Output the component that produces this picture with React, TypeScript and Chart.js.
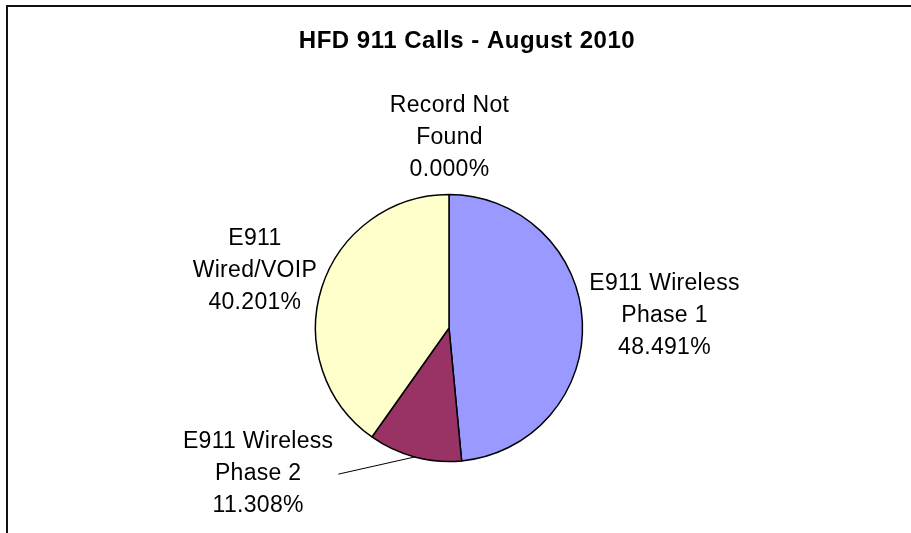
import React, { useEffect, useRef } from 'react';
import { Chart, ArcElement, PieController } from 'chart.js';

Chart.register(ArcElement, PieController);

const chartTitle = 'HFD 911 Calls - August 2010';
const categories: string[][] = [
  ['E911 Wireless', 'Phase 1'],
  ['E911 Wireless', 'Phase 2'],
  ['E911', 'Wired/VOIP'],
  ['Record Not', 'Found'],
];
const values: number[] = [48.491, 11.308, 40.201, 0.0];
const sliceColors: string[] = ['#9999FF', '#993366', '#FFFFCC', '#FFFFFF'];
// label fine-tuning (dx, dy) relative to automatic outside placement
const labelNudges: number[][] = [[-1, -5], [-135, -39.5], [0, -2], [0.5, -2.5]];
const leaderLines: boolean[] = [false, true, false, false];

const W = 911;
const H = 533;

export default function App() {
  const ref = useRef<HTMLCanvasElement | null>(null);

  useEffect(() => {
    if (!ref.current) return;
    const total = values.reduce((a, b) => a + b, 0);

    const decor = {
      id: 'decor',
      beforeDraw(chart: any) {
        const ctx = chart.ctx;
        ctx.save();
        ctx.fillStyle = '#ffffff';
        ctx.fillRect(0, 0, W, H);
        ctx.strokeStyle = '#111111';
        ctx.lineWidth = 2;
        ctx.beginPath();
        ctx.moveTo(W + 2, 6);
        ctx.lineTo(7, 6);
        ctx.lineTo(7, H + 2);
        ctx.stroke();
        // title
        ctx.fillStyle = '#000000';
        ctx.font = 'bold 24px "Liberation Sans", Arial, sans-serif';
        (ctx as any).letterSpacing = '0.5px';
        ctx.textAlign = 'center';
        ctx.textBaseline = 'alphabetic';
        ctx.fillText(chartTitle, 467, 47.5);
        ctx.restore();
      },
      afterDraw(chart: any) {
        const ctx = chart.ctx;
        const meta = chart.getDatasetMeta(0);
        const gap = 8;
        const lh = 32;
        ctx.save();
        ctx.font = '23px "Liberation Sans", Arial, sans-serif';
        (ctx as any).letterSpacing = '0.3px';
        ctx.fillStyle = '#000000';
        ctx.textAlign = 'center';
        ctx.textBaseline = 'alphabetic';
        meta.data.forEach((arc: any, i: number) => {
          const p = arc.getProps(['x', 'y', 'startAngle', 'endAngle', 'outerRadius'], true);
          const mid = (p.startAngle + p.endAngle) / 2;
          const c = Math.cos(mid);
          const s = Math.sin(mid);
          const ax = p.x + c * (p.outerRadius + gap);
          const ay = p.y + s * (p.outerRadius + gap);
          const pct = ((values[i] / total) * 100).toFixed(3) + '%';
          const lines = [...categories[i], pct];
          const hw = Math.max(...lines.map((l) => ctx.measureText(l).width)) / 2;
          const hh = (lines.length * lh) / 2;
          const cx = ax + c * hw + labelNudges[i][0];
          const cy = ay + s * hh + labelNudges[i][1];
          lines.forEach((l, k) => {
            ctx.fillText(l, cx, cy + (k - (lines.length - 1) / 2) * lh + 8);
          });
          if (leaderLines[i]) {
            ctx.save();
            ctx.strokeStyle = '#000000';
            ctx.lineWidth = 1;
            ctx.beginPath();
            ctx.moveTo(cx + hw + 5, cy + 2.5);
            ctx.lineTo(p.x + c * p.outerRadius, p.y + s * p.outerRadius);
            ctx.stroke();
            ctx.restore();
          }
        });
        ctx.restore();
      },
    };

    const chart = new Chart(ref.current, {
      type: 'pie',
      data: {
        labels: categories.map((c) => c.join(' ')),
        datasets: [
          {
            data: values,
            backgroundColor: sliceColors,
            borderColor: '#000000',
            borderWidth: 1.5,
          },
        ],
      },
      options: {
        responsive: false,
        animation: false,
        radius: 133.5,
        layout: { padding: { left: 315.5, right: 328.5, top: 194.5, bottom: 71.5 } },
        plugins: {
          legend: { display: false },
          title: { display: false },
          tooltip: { enabled: false },
        },
        events: [],
      } as any,
      plugins: [decor],
    });
    return () => chart.destroy();
  }, []);

  return (
    <div style={{ position: 'absolute', left: 0, top: 0, width: W, height: H }}>
      <canvas ref={ref} width={W} height={H} style={{ display: 'block', width: W, height: H }} />
    </div>
  );
}
